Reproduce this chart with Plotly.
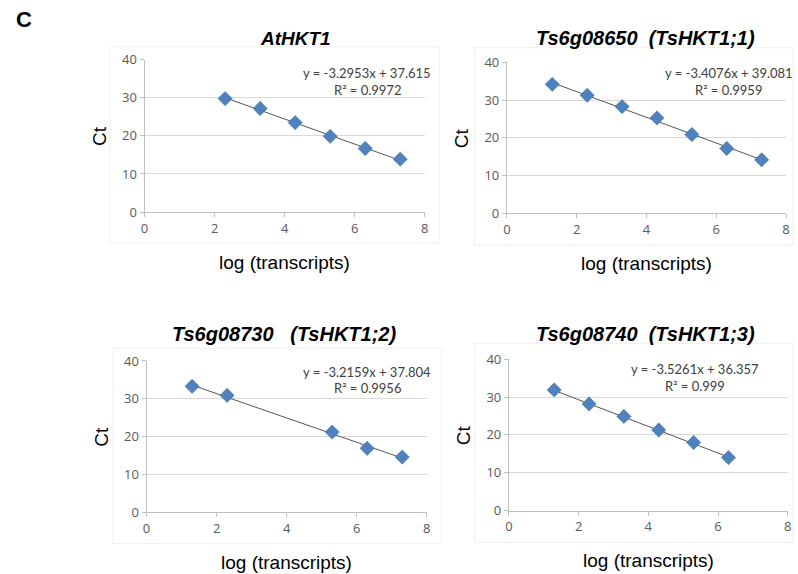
import plotly.graph_objects as go

W, H = 798, 574

# ---------------- data ----------------
titles = ["AtHKT1", "Ts6g08650\u00a0\u00a0(TsHKT1;1)",
          "Ts6g08730\u00a0\u00a0\u00a0(TsHKT1;2)", "Ts6g08740\u00a0\u00a0(TsHKT1;3)"]

x_at = [2.3, 3.3, 4.3, 5.3, 6.3, 7.3]
ct_at = [29.8, 27.2, 23.5, 19.9, 16.7, 13.9]

x_ts1 = [1.3, 2.3, 3.3, 4.3, 5.3, 6.3, 7.3]
ct_ts1 = [34.2, 31.3, 28.3, 25.3, 20.9, 17.2, 14.2]

x_ts2 = [1.3, 2.3, 5.3, 6.3, 7.3]
ct_ts2 = [33.3, 30.9, 21.2, 16.9, 14.6]

x_ts3 = [1.3, 2.3, 3.3, 4.3, 5.3, 6.3]
ct_ts3 = [31.9, 28.2, 24.9, 21.3, 18.0, 14.0]

slopes = [-3.2953, -3.4076, -3.2159, -3.5261]
intercepts = [37.615, 39.081, 37.804, 36.357]
r2_labels = ["0.9972", "0.9959", "0.9956", "0.999"]
eq_labels = ["y = -3.2953x + 37.615", "y = -3.4076x + 39.081",
             "y = -3.2159x + 37.804", "y = -3.5261x + 36.357"]

x_ticks = [0, 2, 4, 6, 8]
y_ticks = [0, 10, 20, 30, 40]
x_title = "log (transcripts)"
y_title = "Ct"
panel_label = "C"

series_x = [x_at, x_ts1, x_ts2, x_ts3]
series_y = [ct_at, ct_ts1, ct_ts2, ct_ts3]

# ---------------- layout geometry (pixels) ----------------
plot_boxes = [  # left, right, top, bottom
    (142, 425, 60, 212),
    (508, 790, 62.7, 213.3),
    (144, 427, 360.7, 511.7),
    (510, 791.7, 359, 510),
]
chart_boxes = [
    (107, 440, 47, 243),
    (475, 797, 48, 245),
    (110, 442, 348, 543),
    (476, 797, 343, 542),
]
title_pos = [(294, 39), (648, 38), (283, 334), (648, 334)]
title_sizes = [19, 20, 20, 20]
eq_pos = [(367, 73, 90), (732, 73, 90), (367, 372, 388), (698, 369, 386)]

def px(x):
    return x / W

def py(y):
    return 1 - ((y - 9.3) / 0.967) / H

fig = go.Figure()
annotations = []
shapes = []
blue = "#4F81BD"
tick_font = dict(family="Open Sans, Lato, sans-serif", size=13, color="#595959")

for i in range(4):
    n = "" if i == 0 else str(i + 1)
    xa, ya = "x" + n, "y" + n
    l, r, t, b = plot_boxes[i]
    xs, ys = series_x[i], series_y[i]
    # trendline from reported equation
    lx = [xs[0], xs[-1]]
    ly = [slopes[i] * v + intercepts[i] for v in lx]
    fig.add_trace(go.Scatter(x=lx, y=ly, mode="lines", xaxis=xa, yaxis=ya,
                             line=dict(color="#555555", width=1),
                             showlegend=False, hoverinfo="skip"))
    fig.add_trace(go.Scatter(x=xs, y=ys, mode="markers", xaxis=xa, yaxis=ya,
                             marker=dict(symbol="diamond", size=11, color=blue,
                                         line=dict(width=0.5, color="#3A6EA5")),
                             showlegend=False))
    fig.update_layout(**{
        "xaxis" + n: dict(domain=[px(l), px(r)], range=[0, 8], anchor=ya,
                          tickvals=x_ticks, showgrid=False, zeroline=False,
                          showline=True, linecolor="#BFBFBF", linewidth=1,
                          ticks="outside", ticklen=4, tickcolor="#BFBFBF",
                          tickfont=tick_font, fixedrange=True),
        "yaxis" + n: dict(domain=[py(b), py(t)], range=[0, 40], anchor=xa,
                          tickvals=y_ticks, showgrid=True, gridcolor="#D9D9D9",
                          gridwidth=1, zeroline=False,
                          showline=True, linecolor="#BFBFBF", linewidth=1,
                          ticks="outside", ticklen=4, tickcolor="#BFBFBF",
                          tickfont=tick_font, fixedrange=True),
    })
    # chart-area faint border
    cl, cr, ct, cb = chart_boxes[i]
    shapes.append(dict(type="rect", xref="paper", yref="paper",
                       x0=px(cl), x1=px(cr), y0=py(cb), y1=py(ct),
                       line=dict(color="#EFEFEF", width=1), layer="below"))
    # title
    tx, ty = title_pos[i]
    annotations.append(dict(text="<b><i>" + titles[i] + "</i></b>", x=px(tx), y=py(ty),
                            xref="paper", yref="paper", showarrow=False,
                            xanchor="center", yanchor="middle",
                            font=dict(family="Liberation Sans, Arial", size=title_sizes[i],
                                      color="black")))
    # equation and R2
    ex, ey1, ey2 = eq_pos[i]
    annotations.append(dict(text=eq_labels[i], x=px(ex), y=py(ey1), xref="paper", yref="paper",
                            showarrow=False, xanchor="center", yanchor="middle",
                            font=dict(family="Lato, sans-serif", size=13, color="#404040")))
    annotations.append(dict(text="R² = " + r2_labels[i], x=px(ex), y=py(ey2), xref="paper", yref="paper",
                            showarrow=False, xanchor="center", yanchor="middle",
                            font=dict(family="Lato, sans-serif", size=13, color="#404040")))
    # axis titles
    annotations.append(dict(text=x_title, x=px((l + r) / 2), y=py(b + 50), xref="paper", yref="paper",
                            showarrow=False, xanchor="center", yanchor="middle",
                            font=dict(family="Liberation Sans, Arial", size=19, color="black")))
    annotations.append(dict(text=y_title, x=px(l - 45), y=py((t + b) / 2), xref="paper", yref="paper",
                            showarrow=False, xanchor="center", yanchor="middle", textangle=-90,
                            font=dict(family="Liberation Sans, Arial", size=19, color="black")))

annotations.append(dict(text="<b>" + panel_label + "</b>", x=px(20), y=py(20), xref="paper", yref="paper",
                        showarrow=False, xanchor="center", yanchor="middle",
                        font=dict(family="Liberation Sans, Arial", size=22, color="black")))

fig.update_layout(width=W, height=H, margin=dict(l=0, r=0, t=0, b=0),
                  paper_bgcolor="white", plot_bgcolor="white",
                  annotations=annotations, shapes=shapes, showlegend=False)

post = ("document.documentElement.style.margin='0';document.body.style.margin='0';"
        "document.body.style.overflow='hidden';")
fig.write_html("out.html", config={"displayModeBar": False}, post_script=post)
